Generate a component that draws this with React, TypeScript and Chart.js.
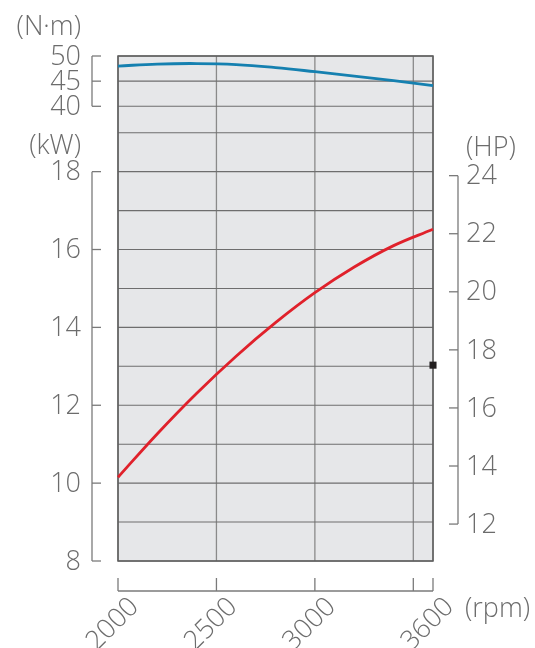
import { useEffect, useRef } from "react";
import { Chart, registerables } from "chart.js";

Chart.register(...registerables);

// ---- data ----
const torqueRpm = [2000, 2200, 2400, 2600, 2800, 3000, 3200, 3400, 3600];
const torqueNm = [48.0, 48.4, 48.5, 48.3, 47.7, 46.88, 46.0, 45.1, 44.1];
const powerRpm = [2000, 2200, 2400, 2600, 2800, 3000, 3200, 3400, 3600];
const powerKw = [10.15, 11.27, 12.31, 13.26, 14.12, 14.89, 15.55, 16.1, 16.52];
const markerRpm = [3600];
const markerKw = [13.03];

// ---- ticks / grid ----
const rpmTicks = [2000, 2500, 3000, 3600];
const rpmGrid = [2000, 2500, 3000, 3500, 3600];
const kwTicks = [8, 10, 12, 14, 16, 18];
const kwGrid = [8, 9, 10, 11, 12, 13, 14, 15, 16, 17, 18, 19];
const torqueTicks = [40, 45, 50];
const hpTicks = [12, 14, 16, 18, 20, 22, 24];
const KW_PER_HP = 0.7457;
const rpmRange = [2000, 3600];
const kwRange = [8, 20.97];
const torqueRange = [-50.4, 50];

const TEXT = "#6c6c6c";
const AXIS = "#7a7a7a";
const FONT = '300 27px "Open Sans", "Noto Sans", sans-serif';

const decor = {
  id: "decor",
  beforeDatasetsDraw(chart: any) {
    const { ctx, chartArea: a, scales } = chart;
    ctx.save();
    ctx.fillStyle = "#e6e7e9";
    ctx.fillRect(a.left, a.top, a.right - a.left, a.bottom - a.top);
    ctx.lineWidth = 1.3;
    ctx.strokeStyle = "#8a8a8a";
    for (const v of rpmGrid) {
      const x = scales.x.getPixelForValue(v);
      ctx.beginPath();
      ctx.moveTo(x, a.top);
      ctx.lineTo(x, a.bottom);
      ctx.stroke();
    }
    ctx.strokeStyle = "#6e6e6e";
    ctx.lineWidth = 1.1;
    const hs: number[] = [];
    for (const v of kwGrid) hs.push(scales.y.getPixelForValue(v));
    for (const v of torqueTicks) hs.push(scales.yT.getPixelForValue(v));
    for (const y of hs) {
      ctx.beginPath();
      ctx.moveTo(a.left, y);
      ctx.lineTo(a.right, y);
      ctx.stroke();
    }
    ctx.strokeStyle = "#5e5e5e";
    ctx.lineWidth = 1.5;
    ctx.strokeRect(a.left, a.top, a.right - a.left, a.bottom - a.top);
    ctx.restore();
  },
  afterDraw(chart: any) {
    const { ctx, chartArea: a, scales } = chart;
    ctx.save();
    ctx.strokeStyle = AXIS;
    ctx.lineWidth = 1.3;
    ctx.fillStyle = TEXT;
    ctx.font = FONT;

    const lx = a.left - 26;
    const bracket = (scale: any, vals: number[], x: number, dir: number) => {
      const ys = vals.map((v) => scale.getPixelForValue(v));
      ctx.beginPath();
      ctx.moveTo(x, Math.min(...ys));
      ctx.lineTo(x, Math.max(...ys));
      ctx.stroke();
      for (const y of ys) {
        ctx.beginPath();
        ctx.moveTo(x, y);
        ctx.lineTo(x + dir * 9, y);
        ctx.stroke();
      }
      return ys;
    };
    ctx.textBaseline = "middle";
    ctx.textAlign = "right";
    const kys = bracket(scales.y, kwTicks, lx, 1);
    kwTicks.forEach((v, i) => ctx.fillText(String(v), a.left - 37, kys[i] + 1));
    const tys = bracket(scales.yT, torqueTicks, lx, 1);
    torqueTicks.forEach((v, i) => ctx.fillText(String(v), a.left - 37, tys[i] + 1));
    ctx.fillText("(N·m)", a.left - 37, 27);
    ctx.fillText("(kW)", a.left - 37, 146);

    // right bracket (HP)
    const rx = a.right + 25;
    ctx.textAlign = "left";
    const hys = bracket(scales.yHP, hpTicks, rx, -1);
    hpTicks.forEach((v, i) => ctx.fillText(String(v), a.right + 33, hys[i] + 1));
    ctx.fillText("(HP)", a.right + 33, 148);

    // x bracket
    const by = a.bottom + 30;
    const x0 = scales.x.getPixelForValue(rpmRange[0]);
    const x1 = scales.x.getPixelForValue(rpmRange[1]);
    ctx.beginPath();
    ctx.moveTo(x0, by);
    ctx.lineTo(x1, by);
    ctx.stroke();
    for (const v of rpmGrid) {
      const x = scales.x.getPixelForValue(v);
      ctx.beginPath();
      ctx.moveTo(x, by);
      ctx.lineTo(x, by - 13);
      ctx.stroke();
    }
    ctx.fillText("(rpm)", a.right + 32, by + 18);
    ctx.textAlign = "right";
    ctx.textBaseline = "top";
    for (const v of rpmTicks) {
      const x = scales.x.getPixelForValue(v);
      ctx.save();
      ctx.translate(x + 7, by + 2);
      ctx.rotate(-Math.PI / 4);
      ctx.fillText(String(v), 0, 0);
      ctx.restore();
    }
    ctx.restore();
  },
};

export default function App() {
  const ref = useRef<HTMLCanvasElement | null>(null);
  useEffect(() => {
    document.body.style.margin = "0";
    if (!ref.current) return;
    const chart = new Chart(ref.current, {
      type: "line",
      data: {
        datasets: [
          {
            label: "Torque",
            data: torqueRpm.map((x, i) => ({ x, y: torqueNm[i] })),
            yAxisID: "yT",
            borderColor: "#1580b0",
            borderWidth: 2.8,
            pointRadius: 0,
            tension: 0.4,
            clip: false,
          },
          {
            label: "Power",
            data: powerRpm.map((x, i) => ({ x, y: powerKw[i] })),
            yAxisID: "y",
            borderColor: "#e0212b",
            borderWidth: 2.8,
            pointRadius: 0,
            tension: 0.4,
            clip: false,
          },
          {
            label: "Marker",
            data: markerRpm.map((x, i) => ({ x, y: markerKw[i] })),
            yAxisID: "y",
            showLine: false,
            pointStyle: "rect",
            pointRadius: 5,
            pointBackgroundColor: "#231f20",
            pointBorderColor: "#231f20",
            pointBorderWidth: 0,
            clip: false,
          },
        ],
      } as any,
      options: {
        animation: false,
        responsive: false,
        events: [],
        layout: { padding: { left: 118, top: 56, right: 102, bottom: 87 } },
        plugins: { legend: { display: false }, tooltip: { enabled: false } },
        scales: {
          x: { type: "linear", min: rpmRange[0], max: rpmRange[1], display: false },
          y: { type: "linear", min: kwRange[0], max: kwRange[1], display: false },
          yT: { type: "linear", min: torqueRange[0], max: torqueRange[1], display: false },
          yHP: {
            type: "linear",
            min: kwRange[0] / KW_PER_HP,
            max: kwRange[1] / KW_PER_HP,
            display: false,
          },
        },
      },
      plugins: [decor],
    });
    return () => chart.destroy();
  }, []);
  return <canvas ref={ref} width={535} height={648} style={{ display: "block" }} />;
}
